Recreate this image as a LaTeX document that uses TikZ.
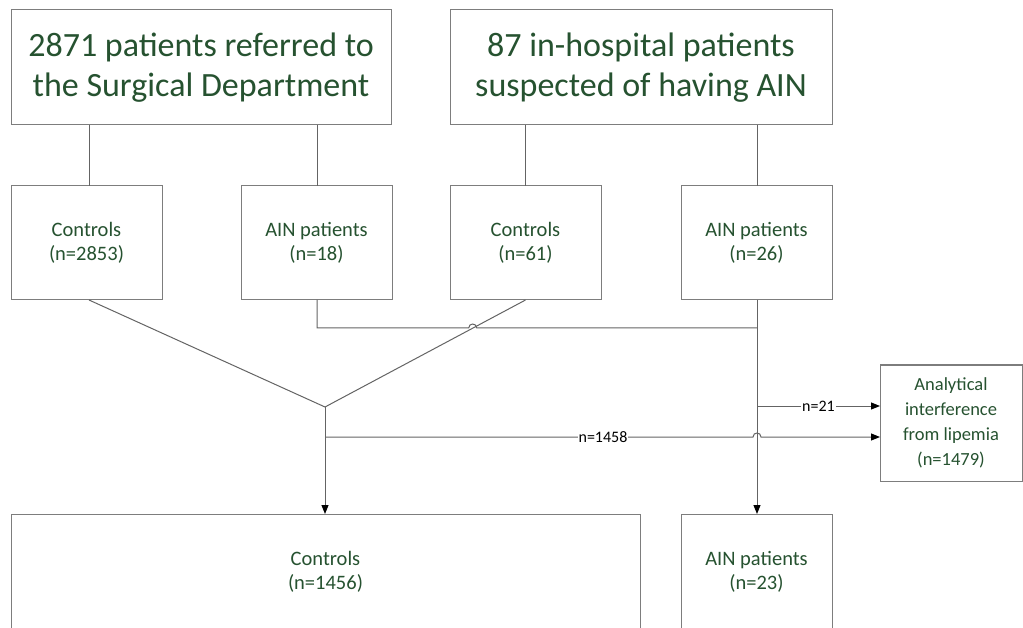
\documentclass[tikz,border=0pt]{standalone}
\usepackage{fontspec}
\setmainfont{Carlito}
\usepackage{tikz}
\usetikzlibrary{calc, positioning, arrows.meta}
\definecolor{txtgreen}{RGB}{38,82,48}
\definecolor{linegray}{RGB}{100,100,100}
\definecolor{boxgray}{RGB}{125,125,125}
\tikzset{
    source/.style={draw=boxgray, line width=1pt, inner sep=0pt, outer sep=0pt,
        minimum height=115pt, align=center, text=txtgreen,
        font=\fontsize{34}{40}\selectfont},
    group/.style={draw=boxgray, line width=1pt, inner sep=0pt, outer sep=0pt,
        minimum width=151pt, minimum height=114pt, align=center, text=txtgreen,
        font=\fontsize{20.5}{24.5}\selectfont},
    excluded/.style={group, minimum width=142pt, minimum height=116pt,
        font=\fontsize{18.5}{25}\selectfont},
    flow/.style = {draw=linegray, line width=1pt},
    flowto/.style = {flow, -{Triangle[length=9pt, width=7pt, color=black]}},
    hop/.style = {out=90, in=90, looseness=1.7},
    count/.style = {fill=white, inner sep=1pt, font=\fontsize{16}{18}\selectfont} }

\begin{document}
\begin{tikzpicture}[x=1pt, y=-1pt]
      \useasboundingbox[fill=white] (0,0) rectangle (1023,628);
      \node[source, minimum width=380pt] (surg) at (201,67.5)
          {2871 patients referred to\\the Surgical Department};
      \node[source, minimum width=382pt] (hosp) at (641,67.5)
          {87 in-hospital patients\\suspected of having AIN};
      \node[group] (ctrlS) at (86.5,243) {Controls\\(n=2853)};
      \node[group] (ainS) at (316.5,243) {AIN patients\\(n=18)};
      \node[group] (ctrlH) at (525.5,243) {Controls\\(n=61)};
      \node[group] (ainH) at (756.5,243) {AIN patients\\(n=26)};
      \node[group, minimum width=629pt, minimum height=116pt] (ctrlAll) at (325.5,572)
          {Controls\\(n=1456)};
      \node[group, minimum height=116pt, right = 41pt of ctrlAll] (ainAll)
          {AIN patients\\(n=23)};
      \node[excluded] (lip) at (951,423)
          {Analytical\\interference\\from lipemia\\(n=1479)};
      % ----
      \coordinate (merge) at (325,407);
      \coordinate (split) at (325,437);
      \coordinate (joinA) at (757,328);
      \coordinate (hopA) at (472.7,328);
      \coordinate (branch) at (757,406);
      % ----
      \draw[flow] (89,125) -- (89,186);
      \draw[flow] (317,125) -- (317,186);
      \draw[flow] (525,125) -- (525,186);
      \draw[flow] (757,125) -- (757,186);
      % ----
      \draw[flow] (89,300) -- (merge) -- (ctrlH.south);
      \draw[flowto] (merge) -- (ctrlAll.north -| merge);
      \draw[flow] (ainS.south -| 317,0) -- (317,328) --
          ([xshift=-4pt]hopA) to[hop] ([xshift=4pt]hopA) -- (joinA);
      \draw[flowto] (ainH.south -| joinA) -- (ainAll.north -| joinA);
      \draw[flowto] (branch) -- (lip.west |- branch)
          node[count, pos=0.5] {n=21};
      \draw[flowto] (split) -- ([xshift=-4pt]split -| joinA) to[hop]
          ([xshift=4pt]split -| joinA) -- (lip.west |- split);
      \node[count] at (603,437) {n=1458};
    \end{tikzpicture}
\end{document}
